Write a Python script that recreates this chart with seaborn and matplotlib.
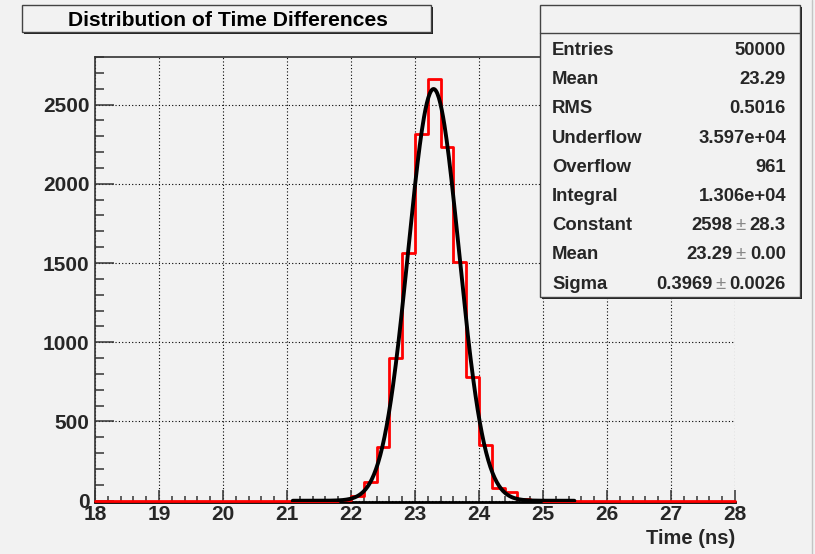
import numpy as np
import pandas as pd
import matplotlib
matplotlib.use("Agg")
import matplotlib.pyplot as plt
import seaborn as sns
from matplotlib.patches import Rectangle
from matplotlib.lines import Line2D
from matplotlib.ticker import MultipleLocator

# ---------------- data ----------------
bin_lo, bin_hi, bin_width = 18.0, 28.0, 0.2
counts = ([0] * 19 +
          [5, 27, 121, 340, 900, 1566, 2313, 2663, 2229, 1506, 782, 354, 83, 55, 14, 3] +
          [0] * 15)
fit_const, fit_mean, fit_sigma = 2598.0, 23.29, 0.3969
fit_range = (21.09, 25.49)

title = "Distribution of Time Differences"
xlabel = "Time (ns)"
stat_names = ["Entries", "Mean", "RMS", "Underflow", "Overflow", "Integral",
              "Constant", "Mean", "Sigma"]
stat_values = ["50000", "23.29", "0.5016", "3.597e+04", "961", "1.306e+04",
               ("2598", "28.3"), ("23.29", "0.00"), ("0.3969", "0.0026")]

# ---------------- figure ----------------
W, H = 815, 554
BG = "#f2f2f2"
sns.set_style("ticks")
plt.rcParams["font.family"] = ["Liberation Sans", "DejaVu Sans"]
plt.rcParams["font.weight"] = "bold"

fig = plt.figure(figsize=(W / 100, H / 100), dpi=100, facecolor=BG)
L, R, B, T = 95, 735, 502, 57
ax = fig.add_axes([L / W, 1 - B / H, (R - L) / W, (B - T) / H], facecolor=BG)

edges = np.linspace(bin_lo, bin_hi, len(counts) + 1)
centers = 0.5 * (edges[:-1] + edges[1:])
df = pd.DataFrame({"t": centers, "n": counts})
sns.histplot(data=df, x="t", weights="n", binwidth=bin_width, binrange=(bin_lo, bin_hi),
             element="step", fill=False,
             color="#ff0000", linewidth=2.0, ax=ax, zorder=3, clip_on=False)

xf = np.linspace(fit_range[0], fit_range[1], 400)
yf = fit_const * np.exp(-0.5 * ((xf - fit_mean) / fit_sigma) ** 2)
sns.lineplot(x=xf, y=yf, color="black", linewidth=2.8, ax=ax, zorder=4,
             sort=False, estimator=None)

ax.set_xlim(bin_lo, bin_hi)
ax.set_ylim(-8, 2800)
ax.set_xlabel("")
ax.set_ylabel("")

TICK_FS = 15
ax.xaxis.set_major_locator(MultipleLocator(1))
ax.xaxis.set_minor_locator(MultipleLocator(0.2))
ax.yaxis.set_major_locator(MultipleLocator(500))
ax.yaxis.set_minor_locator(MultipleLocator(100))
ax.tick_params(axis="x", which="major", direction="in", length=8.6, width=1.1,
               color="#333333", labelsize=TICK_FS, pad=2.0)
ax.tick_params(axis="x", which="minor", direction="in", length=4.3, width=1.1,
               color="#333333")
ax.tick_params(axis="y", which="major", direction="in", length=13.5, width=1.1,
               color="#333333", labelsize=TICK_FS, pad=4.0)
ax.tick_params(axis="y", which="minor", direction="in", length=6.5, width=1.1,
               color="#333333")
for lab in ax.get_xticklabels() + ax.get_yticklabels():
    lab.set_fontweight("bold")

ax.grid(True, which="major", color="black", linestyle=(0, (1, 2)), linewidth=0.8)
ax.set_axisbelow(True)
ax.spines["right"].set_visible(False)
ax.spines["top"].set_color("#333333")
ax.spines["top"].set_linewidth(1.2)
ax.spines["left"].set_color("#333333")
ax.spines["left"].set_linewidth(1.2)
ax.spines["bottom"].set_color("black")
ax.spines["bottom"].set_linewidth(2.0)

def fx(x):
    return x / W

def fy(y):
    return 1 - y / H

def pave(x0, y0, x1, y1, shadow=2):
    fig.add_artist(Rectangle((fx(x0 + shadow), fy(y1 + shadow)), (x1 - x0) / W,
                             (y1 - y0) / H, transform=fig.transFigure,
                             facecolor="#222222", edgecolor="none", zorder=5))
    fig.add_artist(Rectangle((fx(x0), fy(y1)), (x1 - x0) / W, (y1 - y0) / H,
                             transform=fig.transFigure, facecolor=BG,
                             edgecolor="#444444", linewidth=1.0, zorder=6))

# title pave
pave(22, 5, 431, 32)
fig.text(fx(228), fy(20.5), title, ha="center", va="center", fontsize=15.2,
         fontweight="bold", color="black", zorder=7)

# stats pave
pave(540, 5, 800, 297)
fig.add_artist(Line2D([fx(540), fx(800)], [fy(33), fy(33)], transform=fig.transFigure,
                      color="#444444", linewidth=1.0, zorder=7))
renderer = fig.canvas.get_renderer()
fs = 13.3
for i, (name, val) in enumerate(zip(stat_names, stat_values)):
    y = 50.5 + 29.2 * i
    fig.text(fx(552), fy(y), name, ha="left", va="center", fontsize=fs,
             fontweight="bold", zorder=8)
    if isinstance(val, tuple):
        x = 786
        t1 = fig.text(fx(x), fy(y), val[1], ha="right", va="center", fontsize=fs,
                      fontweight="bold", zorder=8)
        x -= t1.get_window_extent(renderer).width + 4
        t2 = fig.text(fx(x), fy(y), "\u00b1", ha="right", va="center", fontsize=fs,
                      fontweight="normal", color="#888888", zorder=8)
        x -= t2.get_window_extent(renderer).width + 3
        fig.text(fx(x), fy(y), val[0], ha="right", va="center", fontsize=fs,
                 fontweight="bold", zorder=8)
    else:
        fig.text(fx(786), fy(y), val, ha="right", va="center", fontsize=fs,
                 fontweight="bold", zorder=8)

# axis title
fig.text(fx(735), fy(539), xlabel, ha="right", va="center", fontsize=14.5,
         fontweight="bold", zorder=8)

# canvas border at right
fig.add_artist(Line2D([fx(812), fx(812)], [0, 1], transform=fig.transFigure,
                      color="#c4c4c4", linewidth=1.0, zorder=1))

fig.savefig("out.png", dpi=100, facecolor=BG)
